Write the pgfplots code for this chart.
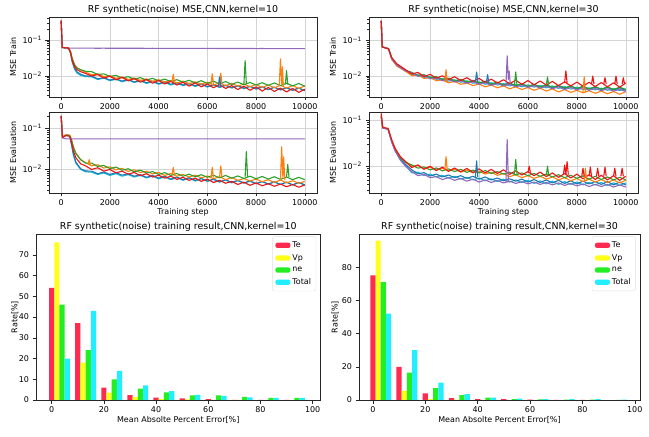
\documentclass[border=0pt]{standalone}
\usepackage{fontspec}
\setmainfont{DejaVu Sans}
\usepackage{pgfplots}
\pgfplotsset{compat=1.18}
\usepackage{pgfplotstable}

\definecolor{tb}{HTML}{1F77B4}
\definecolor{to}{HTML}{FF7F0E}
\definecolor{tg}{HTML}{2CA02C}
\definecolor{tr}{HTML}{EE1414}
\definecolor{tp}{HTML}{9467BD}
\definecolor{tc}{HTML}{17BECF}
\definecolor{hte}{HTML}{FF2A50}
\definecolor{hvp}{HTML}{FFFF1A}
\definecolor{hne}{HTML}{22EE22}
\definecolor{hto}{HTML}{22EEFF}

% loss curves, values
\pgfplotstableread{
x b o g r p c
0 0.35 0.35 0.35 0.35 0.35 0.35
40 0.062 0.062 0.062 0.062 0.062 0.062
300 0.060 0.061 0.060 0.060 0.060 0.060
380 0.045 0.050 0.048 0.046 0.060 0.044
450 0.026 0.032 0.030 0.028 0.060 0.025
550 0.0165 0.021 0.020 0.018 0.060 0.0155
650 0.0130 0.0170 0.0165 0.0150 0.060 0.0120
800 0.0112 0.0148 0.0150 0.0132 0.0598 0.0104
1000 0.0100 0.0128 0.0135 0.0118 0.0597 0.0096
1250 10.0e-3 10.8e-3 13.2e-3 10.0e-3 59.5e-3 9.5e-3
1500 8.3e-3 11.5e-3 11.0e-3 11.0e-3 59.4e-3 8.0e-3
1750 9.0e-3 9.6e-3 11.5e-3 8.7e-3 59.5e-3 8.7e-3
2000 7.7e-3 10.2e-3 9.7e-3 9.9e-3 59.3e-3 7.4e-3
2250 8.4e-3 8.6e-3 10.4e-3 7.8e-3 59.4e-3 8.1e-3
2500 7.2e-3 9.4e-3 8.8e-3 9.2e-3 59.2e-3 6.9e-3
2750 8.0e-3 8.0e-3 9.6e-3 7.3e-3 59.3e-3 7.7e-3
3000 6.8e-3 8.8e-3 8.2e-3 8.5e-3 59.1e-3 6.6e-3
3250 7.6e-3 7.5e-3 9.0e-3 6.7e-3 59.2e-3 7.3e-3
3500 6.5e-3 8.3e-3 7.7e-3 8.0e-3 59.0e-3 6.2e-3
3750 7.2e-3 7.1e-3 8.6e-3 6.3e-3 59.1e-3 6.9e-3
4000 6.1e-3 7.9e-3 7.3e-3 7.5e-3 58.9e-3 5.9e-3
4250 6.9e-3 6.8e-3 8.2e-3 6.0e-3 59.0e-3 6.6e-3
4500 5.9e-3 7.5e-3 7.0e-3 7.1e-3 58.8e-3 5.6e-3
4750 6.6e-3 6.4e-3 7.9e-3 5.6e-3 58.9e-3 6.3e-3
5000 5.6e-3 7.2e-3 6.7e-3 6.7e-3 58.7e-3 5.4e-3
5250 6.3e-3 6.1e-3 7.6e-3 5.2e-3 58.8e-3 6.0e-3
5500 5.3e-3 6.9e-3 6.4e-3 6.4e-3 58.6e-3 5.1e-3
5750 6.0e-3 5.9e-3 7.4e-3 5.0e-3 58.7e-3 5.8e-3
6000 5.1e-3 6.7e-3 6.2e-3 6.0e-3 58.5e-3 4.9e-3
6250 5.8e-3 5.6e-3 7.2e-3 4.7e-3 58.6e-3 5.6e-3
6500 4.9e-3 6.4e-3 6.0e-3 5.7e-3 58.4e-3 4.8e-3
6750 5.6e-3 5.4e-3 7.0e-3 4.5e-3 58.5e-3 5.4e-3
7000 4.8e-3 6.2e-3 5.8e-3 5.4e-3 58.3e-3 4.6e-3
7250 5.4e-3 5.2e-3 6.8e-3 4.2e-3 58.4e-3 5.2e-3
7500 4.6e-3 6.0e-3 5.7e-3 5.2e-3 58.2e-3 4.4e-3
7750 5.2e-3 5.0e-3 6.6e-3 4.0e-3 58.3e-3 5.1e-3
8000 4.4e-3 5.8e-3 5.6e-3 5.0e-3 58.1e-3 4.3e-3
8250 5.0e-3 4.8e-3 6.5e-3 3.8e-3 58.2e-3 4.9e-3
8500 4.2e-3 5.6e-3 5.5e-3 4.8e-3 58.0e-3 4.2e-3
8750 4.9e-3 4.7e-3 6.4e-3 3.7e-3 58.1e-3 4.8e-3
9000 4.1e-3 5.5e-3 5.4e-3 4.6e-3 57.9e-3 4.1e-3
9250 4.7e-3 4.6e-3 6.3e-3 3.6e-3 58.0e-3 4.7e-3
9500 4.0e-3 5.4e-3 5.3e-3 4.5e-3 57.8e-3 4.0e-3
9750 4.6e-3 4.5e-3 6.2e-3 3.5e-3 57.9e-3 4.6e-3
10000 3.9e-3 5.3e-3 5.2e-3 4.3e-3 57.8e-3 3.9e-3
}\trainA

\pgfplotstableread{
x b o g r p c
0 0.35 0.35 0.35 0.35 0.35 0.35
40 0.066 0.065 0.066 0.065 0.066 0.065
300 0.058 0.057 0.059 0.058 0.057 0.058
430 0.031 0.029 0.032 0.033 0.030 0.031
640 0.020 0.019 0.021 0.022 0.020 0.020
1000 0.0142 0.0135 0.0145 0.0150 0.0138 0.0140
1250 12.5e-3 10.3e-3 12.7e-3 11.4e-3 12.2e-3 10.9e-3
1500 10.1e-3 10.7e-3 10.3e-3 12.7e-3 9.9e-3 11.3e-3
1750 10.6e-3 8.6e-3 10.9e-3 9.7e-3 10.3e-3 9.2e-3
2000 8.7e-3 9.1e-3 9.0e-3 11.2e-3 8.4e-3 9.8e-3
2250 9.4e-3 7.4e-3 9.7e-3 8.7e-3 9.0e-3 8.1e-3
2500 7.8e-3 7.9e-3 8.1e-3 10.2e-3 7.4e-3 8.6e-3
2750 8.4e-3 6.5e-3 8.8e-3 8.0e-3 8.0e-3 7.2e-3
3000 7.1e-3 7.1e-3 7.4e-3 9.6e-3 6.8e-3 7.9e-3
3250 7.8e-3 5.9e-3 8.1e-3 7.5e-3 7.4e-3 6.7e-3
3500 6.6e-3 6.4e-3 6.9e-3 9.0e-3 6.3e-3 7.4e-3
3750 7.3e-3 5.4e-3 7.6e-3 7.1e-3 6.9e-3 6.3e-3
4000 6.2e-3 6.0e-3 6.5e-3 8.6e-3 5.9e-3 6.9e-3
4250 6.9e-3 5.0e-3 7.2e-3 6.7e-3 6.5e-3 5.9e-3
4500 5.8e-3 5.6e-3 6.1e-3 8.2e-3 5.5e-3 6.5e-3
4750 6.4e-3 4.7e-3 6.8e-3 6.4e-3 6.2e-3 5.6e-3
5000 5.5e-3 5.3e-3 5.7e-3 7.9e-3 5.3e-3 6.2e-3
5250 6.1e-3 4.4e-3 6.5e-3 6.1e-3 5.9e-3 5.3e-3
5500 5.2e-3 5.0e-3 5.4e-3 7.7e-3 5.0e-3 5.9e-3
5750 5.9e-3 4.2e-3 6.1e-3 5.9e-3 5.6e-3 5.0e-3
6000 5.1e-3 4.8e-3 5.2e-3 7.5e-3 4.8e-3 5.7e-3
6250 5.7e-3 4.0e-3 5.9e-3 5.7e-3 5.4e-3 4.9e-3
6500 4.9e-3 4.6e-3 5.0e-3 7.3e-3 4.6e-3 5.5e-3
6750 5.5e-3 3.8e-3 5.7e-3 5.6e-3 5.2e-3 4.7e-3
7000 4.7e-3 4.4e-3 4.9e-3 7.1e-3 4.4e-3 5.3e-3
7250 5.3e-3 3.6e-3 5.5e-3 5.4e-3 5.0e-3 4.5e-3
7500 4.5e-3 4.2e-3 4.7e-3 6.9e-3 4.2e-3 5.1e-3
7750 5.2e-3 3.5e-3 5.3e-3 5.3e-3 4.8e-3 4.3e-3
8000 4.4e-3 4.0e-3 4.5e-3 6.8e-3 4.1e-3 4.9e-3
8250 5.0e-3 3.4e-3 5.2e-3 5.2e-3 4.7e-3 4.2e-3
8500 4.3e-3 3.9e-3 4.4e-3 6.7e-3 4.0e-3 4.7e-3
8750 4.9e-3 3.3e-3 5.1e-3 5.1e-3 4.5e-3 4.1e-3
9000 4.2e-3 3.8e-3 4.3e-3 6.6e-3 3.9e-3 4.6e-3
9250 4.8e-3 3.2e-3 5.0e-3 5.0e-3 4.4e-3 4.0e-3
9500 4.1e-3 3.7e-3 4.2e-3 6.5e-3 3.8e-3 4.5e-3
9750 4.7e-3 3.1e-3 4.9e-3 4.9e-3 4.3e-3 3.9e-3
10000 4.0e-3 3.7e-3 4.2e-3 6.4e-3 3.7e-3 4.4e-3
}\trainB

\pgfplotstableread{
x b o g r p c
0 0.20 0.20 0.20 0.20 0.20 0.20
50 0.060 0.062 0.061 0.060 0.058 0.060
200 0.068 0.070 0.068 0.066 0.055 0.067
350 0.065 0.068 0.066 0.064 0.055 0.064
420 0.042 0.055 0.052 0.046 0.055 0.040
500 0.024 0.036 0.034 0.028 0.055 0.022
600 0.015 0.025 0.024 0.019 0.055 0.014
800 0.0102 0.0170 0.0170 0.0135 0.055 0.0098
1000 0.0090 0.0145 0.0140 0.0120 0.055 0.0086
1250 8.9e-3 12.0e-3 14.0e-3 9.8e-3 55e-3 8.4e-3
1500 7.7e-3 12.8e-3 11.6e-3 10.8e-3 55e-3 7.4e-3
1750 8.5e-3 10.6e-3 12.3e-3 8.9e-3 55e-3 8.0e-3
2000 7.4e-3 11.4e-3 10.3e-3 9.8e-3 55e-3 7.0e-3
2250 8.2e-3 9.6e-3 11.2e-3 8.1e-3 55e-3 7.7e-3
2500 7.1e-3 10.4e-3 9.4e-3 8.9e-3 55e-3 6.7e-3
2750 7.7e-3 8.8e-3 10.2e-3 7.5e-3 55e-3 7.3e-3
3000 6.7e-3 9.6e-3 8.6e-3 8.3e-3 55e-3 6.4e-3
3250 7.3e-3 8.2e-3 9.4e-3 6.9e-3 55e-3 7.0e-3
3500 6.3e-3 8.9e-3 8.0e-3 7.7e-3 55e-3 6.1e-3
3750 7.0e-3 7.6e-3 8.7e-3 6.4e-3 55e-3 6.7e-3
4000 6.0e-3 8.3e-3 7.4e-3 7.1e-3 55e-3 5.8e-3
4250 6.7e-3 7.0e-3 8.2e-3 6.0e-3 55e-3 6.4e-3
4500 5.7e-3 7.8e-3 7.0e-3 6.7e-3 55e-3 5.5e-3
4750 6.4e-3 6.7e-3 7.8e-3 5.6e-3 55e-3 6.2e-3
5000 5.5e-3 7.4e-3 6.7e-3 6.3e-3 55e-3 5.3e-3
5250 6.2e-3 6.4e-3 7.5e-3 5.3e-3 55e-3 6.0e-3
5500 5.3e-3 7.1e-3 6.5e-3 6.0e-3 55e-3 5.1e-3
5750 5.9e-3 6.1e-3 7.3e-3 5.0e-3 55e-3 5.8e-3
6000 5.1e-3 6.8e-3 6.3e-3 5.7e-3 55e-3 5.0e-3
6250 5.7e-3 5.8e-3 7.1e-3 4.7e-3 55e-3 5.6e-3
6500 4.9e-3 6.5e-3 6.1e-3 5.3e-3 55e-3 4.8e-3
6750 5.5e-3 5.5e-3 7.0e-3 4.5e-3 55e-3 5.4e-3
7000 4.7e-3 6.2e-3 6.0e-3 5.0e-3 55e-3 4.6e-3
7250 5.3e-3 5.3e-3 6.8e-3 4.2e-3 55e-3 5.2e-3
7500 4.6e-3 5.9e-3 5.9e-3 4.8e-3 55e-3 4.5e-3
7750 5.1e-3 5.1e-3 6.7e-3 4.0e-3 55e-3 5.1e-3
8000 4.4e-3 5.7e-3 5.8e-3 4.6e-3 55e-3 4.4e-3
8250 5.0e-3 4.9e-3 6.6e-3 3.9e-3 55e-3 4.9e-3
8500 4.3e-3 5.5e-3 5.7e-3 4.4e-3 55e-3 4.3e-3
8750 4.9e-3 4.7e-3 6.5e-3 3.8e-3 55e-3 4.8e-3
9000 4.2e-3 5.4e-3 5.6e-3 4.3e-3 55e-3 4.2e-3
9250 4.8e-3 4.6e-3 6.4e-3 3.7e-3 55e-3 4.8e-3
9500 4.1e-3 5.2e-3 5.5e-3 4.2e-3 55e-3 4.1e-3
9750 4.7e-3 4.5e-3 6.3e-3 3.6e-3 55e-3 4.7e-3
10000 4.1e-3 5.0e-3 5.5e-3 4.1e-3 55e-3 4.1e-3
}\evalA

\pgfplotstableread{
x b o g r p c
0 0.12 0.13 0.12 0.14 0.12 0.12
60 0.068 0.070 0.068 0.069 0.067 0.068
280 0.064 0.065 0.064 0.066 0.063 0.064
430 0.034 0.036 0.035 0.037 0.033 0.034
570 0.022 0.024 0.023 0.024 0.021 0.022
780 0.0145 0.0160 0.0155 0.0160 0.0135 0.0140
1000 0.0108 0.0125 0.0120 0.0124 0.0098 0.0104
1250 8.3e-3 9.9e-3 10.6e-3 9.3e-3 7.6e-3 7.1e-3
1500 6.8e-3 10.4e-3 9.0e-3 10.6e-3 6.2e-3 7.4e-3
1750 7.2e-3 8.8e-3 9.6e-3 8.5e-3 6.6e-3 6.2e-3
2000 6.1e-3 9.5e-3 8.3e-3 9.9e-3 5.6e-3 6.7e-3
2250 6.7e-3 8.2e-3 9.1e-3 8.0e-3 5.9e-3 5.8e-3
2500 5.8e-3 9.0e-3 7.9e-3 9.5e-3 5.1e-3 6.3e-3
2750 6.4e-3 7.8e-3 8.7e-3 7.7e-3 5.6e-3 5.5e-3
3000 5.6e-3 8.6e-3 7.6e-3 9.1e-3 4.9e-3 6.0e-3
3250 6.2e-3 7.4e-3 8.5e-3 7.5e-3 5.4e-3 5.2e-3
3500 5.4e-3 8.2e-3 7.3e-3 8.9e-3 4.7e-3 5.7e-3
3750 6.0e-3 7.1e-3 8.2e-3 7.3e-3 5.2e-3 5.0e-3
4000 5.2e-3 7.8e-3 7.1e-3 8.7e-3 4.5e-3 5.5e-3
4250 5.8e-3 6.7e-3 8.0e-3 7.1e-3 5.0e-3 4.8e-3
4500 5.0e-3 7.3e-3 6.9e-3 8.5e-3 4.4e-3 5.3e-3
4750 5.5e-3 6.3e-3 7.6e-3 6.9e-3 4.9e-3 4.6e-3
5000 4.8e-3 6.9e-3 6.7e-3 8.3e-3 4.3e-3 5.2e-3
5250 5.3e-3 5.9e-3 7.4e-3 6.6e-3 4.7e-3 4.5e-3
5500 4.7e-3 6.5e-3 6.4e-3 7.9e-3 4.2e-3 5.0e-3
5750 5.2e-3 5.6e-3 7.1e-3 6.4e-3 4.6e-3 4.4e-3
6000 4.5e-3 6.2e-3 6.2e-3 7.6e-3 4.1e-3 4.9e-3
6250 5.1e-3 5.4e-3 6.9e-3 6.2e-3 4.5e-3 4.2e-3
6500 4.4e-3 6.0e-3 6.0e-3 7.4e-3 4.0e-3 4.8e-3
6750 5.0e-3 5.2e-3 6.7e-3 5.9e-3 4.4e-3 4.1e-3
7000 4.3e-3 5.8e-3 5.8e-3 7.1e-3 3.9e-3 4.7e-3
7250 4.9e-3 5.0e-3 6.5e-3 5.7e-3 4.3e-3 4.0e-3
7500 4.2e-3 5.6e-3 5.6e-3 6.9e-3 3.8e-3 4.6e-3
7750 4.8e-3 4.8e-3 6.3e-3 5.5e-3 4.2e-3 4.0e-3
8000 4.1e-3 5.4e-3 5.4e-3 6.7e-3 3.7e-3 4.5e-3
8250 4.7e-3 4.6e-3 6.1e-3 5.3e-3 4.1e-3 3.9e-3
8500 4.1e-3 5.2e-3 5.2e-3 6.5e-3 3.6e-3 4.4e-3
8750 4.6e-3 4.5e-3 6.0e-3 5.1e-3 4.0e-3 3.9e-3
9000 4.0e-3 5.1e-3 5.1e-3 6.3e-3 3.6e-3 4.4e-3
9250 4.6e-3 4.4e-3 5.8e-3 5.0e-3 4.0e-3 3.8e-3
9500 3.9e-3 5.0e-3 5.0e-3 6.2e-3 3.5e-3 4.3e-3
9750 4.5e-3 4.3e-3 5.7e-3 4.9e-3 3.9e-3 3.8e-3
10000 3.9e-3 4.9e-3 5.0e-3 6.0e-3 3.5e-3 4.3e-3
}\evalB

\pgfplotsset{
  every axis title/.style={at={(0.5,1)}, anchor=south, inner sep=0pt,
    yshift=2.5bp, font=\fontsize{9.5}{11}\selectfont},
  lossax/.style={
    scale only axis,
    xmin=-500, xmax=10500,
    xtick={0,2000,4000,6000,8000,10000},
    scaled x ticks=false,
    xticklabel style={/pgf/number format/1000 sep={}},
    ytick={0.01,0.1},
    yticklabels={10\textsuperscript{−2},10\textsuperscript{−1}},
    minor ytick={0.003,0.004,0.005,0.006,0.007,0.008,0.009,0.02,0.03,0.04,0.05,0.06,0.07,0.08,0.09,0.2,0.3,0.4},
    grid=major, major grid style={black!17, line width=0.5pt},
    tick align=outside, tick pos=left,
    major tick length=3.5bp, minor tick length=2bp,
    every tick/.style={black!85, line width=0.5pt},
    axis line style={black!85, line width=0.6pt},
    tick label style={font=\fontsize{8}{9}\selectfont},
    label style={font=\fontsize{8}{9}\selectfont},
    ylabel style={at={(axis description cs:-0.134,0.5)}, anchor=center},
    xlabel style={at={(axis description cs:0.5,0)}, anchor=north,
      inner sep=0pt, yshift=-15bp},
    every axis plot/.append style={line width=1.1pt, line join=round},
  },
  histax/.style={
    scale only axis, ymin=0,
    xtick={0,20,40,60,80,100},
    tick align=outside, tick pos=left,
    major tick length=3.5bp,
    every tick/.style={black!85, line width=0.5pt},
    axis line style={black!85, line width=0.6pt},
    tick label style={font=\fontsize{8}{9}\selectfont},
    label style={font=\fontsize{8}{9}\selectfont},
    xlabel style={at={(axis description cs:0.5,0)}, anchor=north,
      inner sep=0pt, yshift=-16.5bp},
    xlabel={Mean Absolte Percent Error[\%]}, ylabel={Rate[\%]},
    legend style={at={(0.985,0.985)}, anchor=north east, draw=black!12,
      rounded corners=2bp, font=\fontsize{8}{9}\selectfont, row sep=1.4bp,
      inner xsep=3bp, inner ysep=3bp, cells={anchor=west}},
    legend image code/.code={\fill[##1] (0bp,-2.6bp) rectangle (15bp,2.6bp);},
  },
  hbar/.style={ybar, bar width=2, bar shift=0pt, draw=none, forget plot},
}

\begin{document}
\begin{tikzpicture}
\path[use as bounding box] (0,0) rectangle (649bp,437bp);

% ---- top left: train, kernel=10
\begin{axis}[ymode=log, lossax, /pgf/number format/assume math mode=true,
  at={(49bp,340bp)}, anchor=south west, width=268bp, height=80bp,
  ymin=0.0026, ymax=0.44, ylabel={MSE Train},
  title={RF synthetic(noise) MSE,CNN,kernel=10}]
\addplot[tc] table[x=x,y=c] {\trainA};
\addplot[tb] table[x=x,y=b] {\trainA};
\addplot[to] table[x=x,y=o] {\trainA};
\addplot[tg] table[x=x,y=g] {\trainA};
\addplot[tp] table[x=x,y=p] {\trainA};
\addplot[tr] table[x=x,y=r] {\trainA};
\addplot[to] coordinates {(4550,6.9e-3)(4600,11e-3)(4650,6.9e-3)};
\addplot[to] coordinates {(6150,6.0e-3)(6200,11.5e-3)(6250,6.0e-3)};
\addplot[to] coordinates {(6500,6.0e-3)(6550,12e-3)(6600,6.0e-3)};
\addplot[to] coordinates {(8950,5.3e-3)(9000,30e-3)(9050,6e-3)(9080,18e-3)(9120,5.3e-3)};
\addplot[tb] coordinates {(6450,5.2e-3)(6500,9.5e-3)(6550,5.2e-3)};
\addplot[tg] coordinates {(7500,6.0e-3)(7550,27e-3)(7600,6.0e-3)};
\addplot[tg] coordinates {(9200,5.8e-3)(9250,14e-3)(9300,5.8e-3)};
\end{axis}

% ---- top left: evaluation, kernel=10
\begin{axis}[ymode=log, lossax, /pgf/number format/assume math mode=true,
  at={(49bp,244bp)}, anchor=south west, width=268bp, height=81bp,
  ymin=0.0026, ymax=0.25, ylabel={MSE Evaluation}, xlabel={Training step}]
\addplot[tc] table[x=x,y=c] {\evalA};
\addplot[tb] table[x=x,y=b] {\evalA};
\addplot[to] table[x=x,y=o] {\evalA};
\addplot[tg] table[x=x,y=g] {\evalA};
\addplot[tp] table[x=x,y=p] {\evalA};
\addplot[tr] table[x=x,y=r] {\evalA};
\addplot[to] coordinates {(1100,13e-3)(1150,17e-3)(1200,12.5e-3)};
\addplot[to] coordinates {(4550,7.2e-3)(4600,11e-3)(4650,7.2e-3)};
\addplot[to] coordinates {(6150,6.2e-3)(6200,11e-3)(6250,6.2e-3)};
\addplot[to] coordinates {(6500,6.3e-3)(6550,12e-3)(6600,6.3e-3)};
\addplot[tg] coordinates {(7550,6.5e-3)(7600,27e-3)(7650,6.5e-3)};
\addplot[to] coordinates {(9000,5.4e-3)(9050,35e-3)(9100,6e-3)(9130,20e-3)(9180,5.4e-3)};
\addplot[tg] coordinates {(9250,6.4e-3)(9300,13e-3)(9350,6.4e-3)};
\end{axis}

% ---- top right: train, kernel=30
\begin{axis}[ymode=log, lossax, /pgf/number format/assume math mode=true,
  at={(369bp,340bp)}, anchor=south west, width=269bp, height=80bp,
  ymin=0.0026, ymax=0.45, ylabel={MSE Train},
  title={RF synthetic(noise) MSE,CNN,kernel=30}]
\addplot[tc] table[x=x,y=c] {\trainB};
\addplot[tb] table[x=x,y=b] {\trainB};
\addplot[to] table[x=x,y=o] {\trainB};
\addplot[tg] table[x=x,y=g] {\trainB};
\addplot[tp] table[x=x,y=p] {\trainB};
\addplot[tr] table[x=x,y=r] {\trainB};
\addplot[to] coordinates {(2600,6.8e-3)(2650,15e-3)(2700,6.8e-3)};
\addplot[tb] coordinates {(3850,7.0e-3)(3900,13e-3)(3950,7.0e-3)};
\addplot[tb] coordinates {(4300,6.5e-3)(4350,11e-3)(4400,6.5e-3)};
\addplot[tp] coordinates {(5100,5.5e-3)(5150,37e-3)(5200,8e-3)(5230,14e-3)(5280,5.5e-3)};
\addplot[tg] coordinates {(5450,5.8e-3)(5500,13e-3)(5550,5.8e-3)};
\addplot[tg] coordinates {(6750,5.5e-3)(6800,9.5e-3)(6850,5.5e-3)};
\addplot[tr] coordinates {(7500,6.5e-3)(7550,14e-3)(7600,6.5e-3)};
\addplot[to] coordinates {(8250,3.6e-3)(8300,9.5e-3)(8350,3.6e-3)};
\addplot[tr] coordinates {(8600,6e-3)(8650,10e-3)(8700,6e-3)};
\addplot[tr] coordinates {(9100,6e-3)(9150,9e-3)(9200,6e-3)};
\addplot[tr] coordinates {(9550,6e-3)(9600,10e-3)(9650,6e-3)};
\addplot[tr] coordinates {(9850,6e-3)(9900,9e-3)(9950,6e-3)};
\end{axis}

% ---- top right: evaluation, kernel=30
\begin{axis}[ymode=log, lossax, /pgf/number format/assume math mode=true,
  at={(369bp,244bp)}, anchor=south west, width=269bp, height=81bp,
  ymin=0.0026, ymax=0.15, ylabel={MSE Evaluation}, xlabel={Training step}]
\addplot[tc] table[x=x,y=c] {\evalB};
\addplot[tb] table[x=x,y=b] {\evalB};
\addplot[to] table[x=x,y=o] {\evalB};
\addplot[tg] table[x=x,y=g] {\evalB};
\addplot[tp] table[x=x,y=p] {\evalB};
\addplot[tr] table[x=x,y=r] {\evalB};
\addplot[to] coordinates {(2600,8.2e-3)(2650,16e-3)(2700,8.2e-3)};
\addplot[tb] coordinates {(3850,5.8e-3)(3900,13e-3)(3950,5.8e-3)};
\addplot[tp] coordinates {(5100,4.5e-3)(5150,38e-3)(5200,4.5e-3)};
\addplot[tg] coordinates {(5450,6.8e-3)(5500,14e-3)(5550,6.8e-3)};
\addplot[tr] coordinates {(6000,7.2e-3)(6050,10e-3)(6100,7.2e-3)};
\addplot[tg] coordinates {(6750,6.3e-3)(6800,10e-3)(6850,6.3e-3)};
\addplot[tr] coordinates {(7450,6.5e-3)(7500,10.5e-3)(7550,6.5e-3)(7600,12.5e-3)(7650,6.5e-3)};
\addplot[to] coordinates {(8300,4.8e-3)(8350,9e-3)(8400,4.8e-3)};
\addplot[tr] coordinates {(8200,6e-3)(8250,9e-3)(8300,6e-3)};
\addplot[tr] coordinates {(8500,6e-3)(8550,9.5e-3)(8600,6e-3)};
\addplot[tr] coordinates {(8800,6e-3)(8850,9e-3)(8900,6e-3)};
\addplot[tr] coordinates {(9100,6e-3)(9150,9.5e-3)(9200,6e-3)};
\addplot[tr] coordinates {(9500,6e-3)(9550,9e-3)(9600,6e-3)};
\addplot[tr] coordinates {(9800,6e-3)(9850,9e-3)(9900,6e-3)};
\end{axis}

% ---- bottom left: histogram, kernel=10
\begin{axis}[histax, /pgf/number format/assume math mode=true,
  at={(36bp,37bp)}, anchor=south west, width=284.5bp, height=166bp,
  xmin=-6, xmax=103, ymax=80, ytick={0,10,20,30,40,50,60,70},
  ylabel style={at={(axis description cs:-0.074,0.5)}, anchor=center},
  title={RF synthetic(noise) training result,CNN,kernel=10}]
\addlegendimage{fill=hte, draw=none}\addlegendentry{Te}
\addlegendimage{fill=hvp, draw=none}\addlegendentry{Vp}
\addlegendimage{fill=hne, draw=none}\addlegendentry{ne}
\addlegendimage{fill=hto, draw=none}\addlegendentry{Total}
\addplot[hbar, fill=hte] coordinates {(0,54)(10,37)(20,6)(30,2.3)(40,1.2)(50,0.8)(60,0.4)(70,0.1)(80,0.1)(90,0.1)};
\addplot[hbar, fill=hvp] coordinates {(2,76)(12,18)(22,3.5)(32,1.5)(42,0.4)(52,0.3)(62,0.1)(72,0.1)};
\addplot[hbar, fill=hne] coordinates {(4,46)(14,24)(24,10)(34,5.5)(44,3.7)(54,2.2)(64,2.2)(74,1.5)(84,1.0)(94,1.0)};
\addplot[hbar, fill=hto] coordinates {(6,20)(16,43)(26,14)(36,7)(46,4.3)(56,2.5)(66,2.0)(76,1.3)(86,1.0)(96,1.0)};
\end{axis}

% ---- bottom right: histogram, kernel=30
\begin{axis}[histax, /pgf/number format/assume math mode=true,
  at={(359bp,37bp)}, anchor=south west, width=281bp, height=166bp,
  xmin=-5.3, xmax=102, ymax=100, ytick={0,20,40,60,80},
  ylabel style={at={(axis description cs:-0.085,0.5)}, anchor=center},
  title={RF synthetic(noise) training result,CNN,kernel=30}]
\addlegendimage{fill=hte, draw=none}\addlegendentry{Te}
\addlegendimage{fill=hvp, draw=none}\addlegendentry{Vp}
\addlegendimage{fill=hne, draw=none}\addlegendentry{ne}
\addlegendimage{fill=hto, draw=none}\addlegendentry{Total}
\addplot[hbar, fill=hte] coordinates {(0,75)(10,20)(20,4)(30,1.2)(40,0.5)(50,0.5)(60,0.2)(70,0.1)(80,0.1)};
\addplot[hbar, fill=hvp] coordinates {(2,96)(12,5.5)(22,0.5)(32,0.2)(42,0.1)};
\addplot[hbar, fill=hne] coordinates {(4,71)(14,16.5)(24,7.2)(34,3.0)(44,1.5)(54,0.6)(64,0.4)(74,0.3)(84,0.3)(94,0.1)};
\addplot[hbar, fill=hto] coordinates {(6,52)(16,30)(26,10.5)(36,3.5)(46,1.5)(56,0.8)(66,0.5)(76,0.5)(86,0.5)(96,0.2)};
\end{axis}
\end{tikzpicture}
\end{document}
